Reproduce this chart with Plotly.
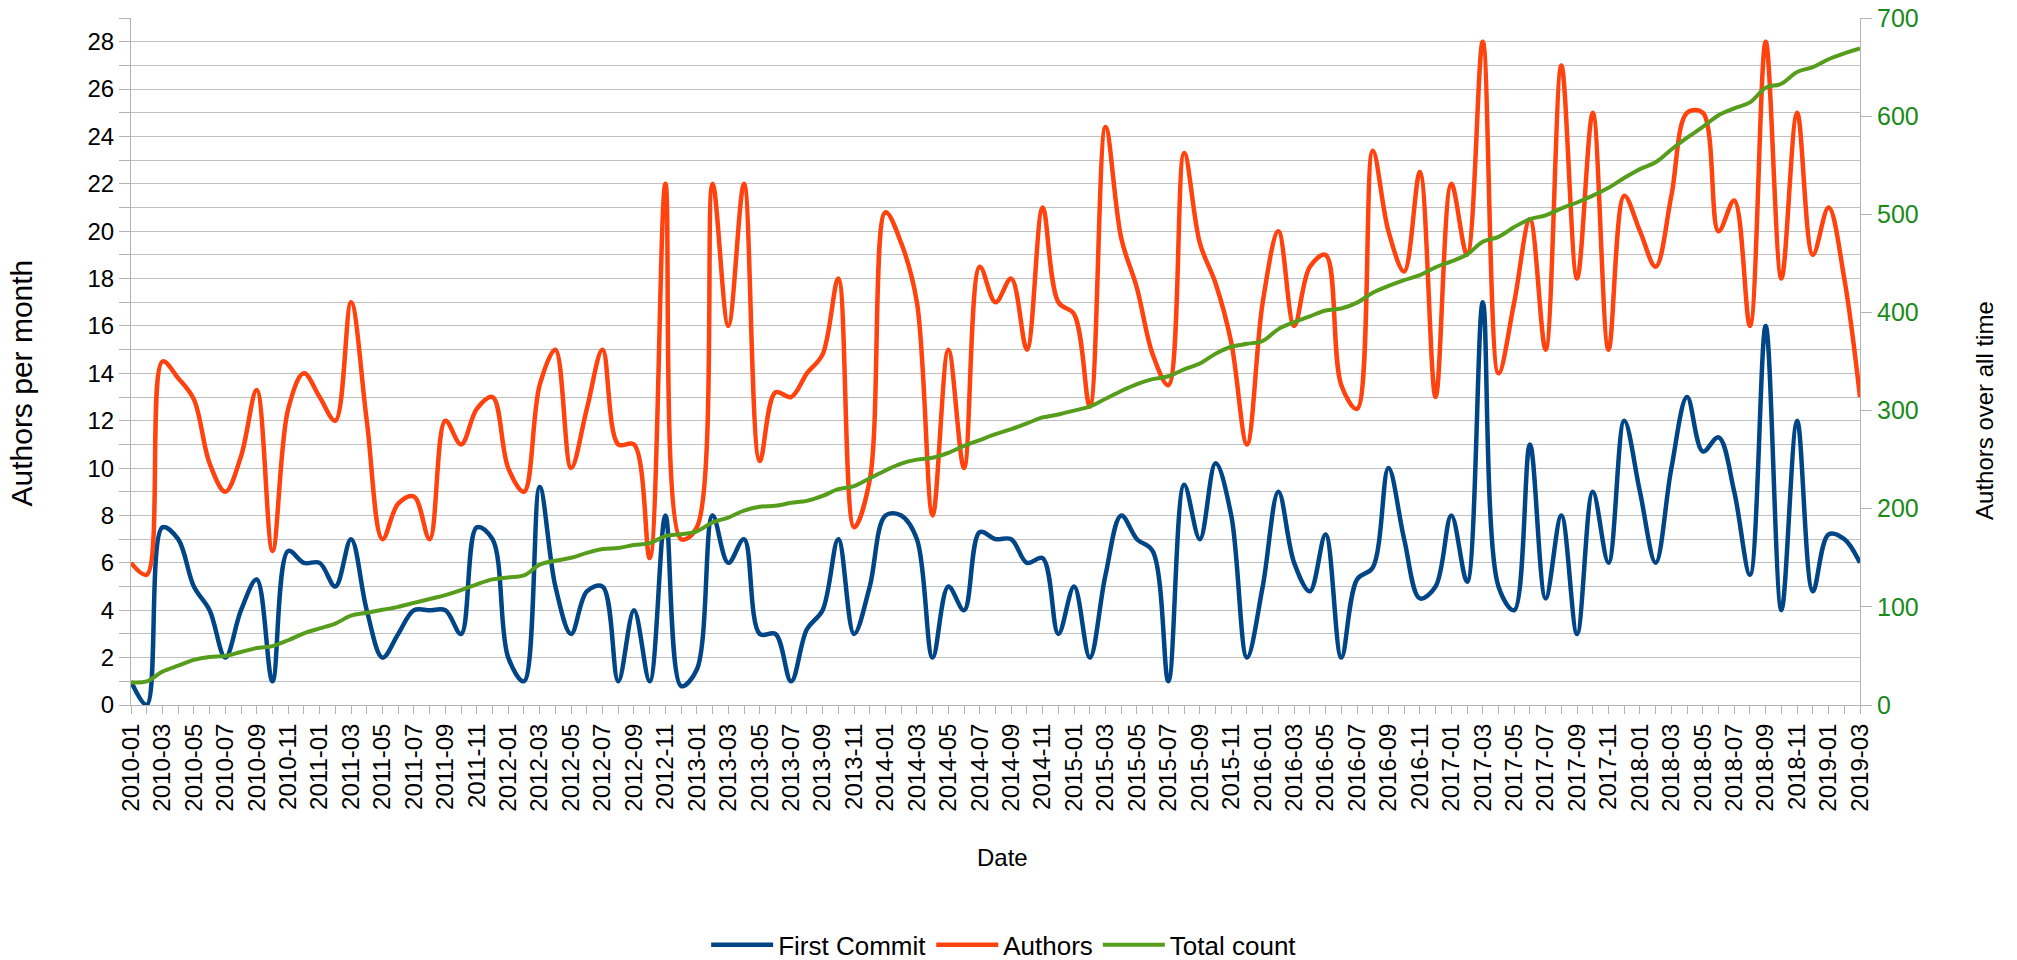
import plotly.graph_objects as go

# Categories: one per month, 2010-01 .. 2019-03
months = [f"{y}-{m:02d}" for y in range(2010, 2020) for m in range(1, 13)][:111]

first_commit = [
    1, 0, 7.5, 7, 5, 4, 2, 4, 5.3, 1,
    6.5, 6, 6, 5, 7, 4, 2, 3, 4, 4,
    4, 3, 7.5, 7, 2, 1, 9.2, 5, 3, 4.8,
    5, 1, 4, 1, 8, 0.8, 1.5, 8, 6, 7,
    3, 3, 1, 3.2, 4, 7, 3, 5, 8, 8,
    7, 2, 5, 4, 7.3, 7, 7, 6, 6.2, 3,
    5, 2, 5.5, 8, 7, 6.5, 1, 9.3, 7, 10.2,
    8, 2, 5, 9, 6, 4.8, 7.2, 2, 5.3, 5.8,
    10, 7, 4.5, 5, 8, 5.2, 17, 5, 4, 11,
    4.5, 8, 3, 9, 6, 12, 9, 6, 10, 13,
    10.7, 11.3, 9, 5.5, 16, 4, 12, 4.8, 7.2, 7,
    6,
]

authors = [
    6, 5.5, 14.5, 13.8, 12.9, 10.2, 9, 10.5, 13.3, 6.5,
    12.5, 14, 13, 12, 17, 12, 7, 8.5, 8.8, 7,
    12, 11, 12.5, 13, 10, 9, 13.5, 15, 10, 12.5,
    15, 11, 11, 6.2, 22, 7, 7.5, 22, 16, 22,
    10.3, 13.2, 13, 14, 14.8, 18, 7.5, 9.5, 20.8, 19.5,
    17, 8, 15, 10, 18.5, 17, 18, 15, 21, 17,
    16.5, 12.6, 24.4, 19.7, 17.6, 14.8, 13.5, 23.3, 19.5, 17.8,
    15.3, 11, 17, 20, 16, 18.5, 19, 13.5, 12.5, 23.4,
    20, 18.3, 22.5, 13, 22, 19, 28, 14, 17, 20.5,
    15, 27, 18, 25, 15, 21.5, 20, 18.5, 21.5, 25,
    25, 20, 21.3, 16, 28, 18, 25, 19, 21, 18,
    13,
]

total_count = [
    23, 24, 34, 40, 46, 49, 50, 54, 58, 60,
    66, 73, 78, 83, 91, 94, 97, 100, 104, 108,
    112, 117, 123, 128, 130, 132, 143, 147, 150, 155,
    159, 160, 163, 165, 172, 174, 177, 186, 191, 198,
    202, 203, 206, 208, 213, 220, 223, 231, 239, 246,
    250, 252, 257, 264, 270, 276, 281, 287, 293, 296,
    300, 304, 312, 320, 327, 332, 335, 342, 348, 358,
    365, 368, 371, 383, 390, 396, 402, 404, 410, 420,
    427, 433, 438, 446, 452, 459, 472, 477, 487, 495,
    499, 506, 512, 519, 527, 537, 546, 553, 566, 578,
    589, 601, 608, 614, 629, 633, 645, 650, 658, 664,
    669,
]

idx = list(range(len(months)))

BLUE = "#004586"
ORANGE = "#ff420e"
GREEN = "#579d1c"
GRID = "#c0c0c0"
AXIS = "#b3b3b3"
FONT = "Liberation Sans, Arial, sans-serif"

fig = go.Figure()
fig.add_trace(go.Scatter(x=idx, y=first_commit, name="First Commit", mode="lines",
                         line=dict(color=BLUE, width=4.5, shape="spline", smoothing=1)))
fig.add_trace(go.Scatter(x=idx, y=authors, name="Authors", mode="lines",
                         line=dict(color=ORANGE, width=4.5, shape="spline", smoothing=1)))
fig.add_trace(go.Scatter(x=idx, y=total_count, name="Total count", mode="lines", yaxis="y2",
                         line=dict(color=GREEN, width=4, shape="spline", smoothing=1)))

fig.update_layout(
    width=2017, height=960,
    margin=dict(l=131, r=157, t=18, b=255, autoexpand=False),
    paper_bgcolor="white", plot_bgcolor="white",
    font=dict(family=FONT, size=24, color="black"),
    showlegend=True,
    legend=dict(orientation="h", x=0.505, xanchor="center", y=-0.3493, yanchor="middle",
                font=dict(size=26), itemwidth=62, bgcolor="rgba(0,0,0,0)"),
    xaxis=dict(
        range=[0, 110], tickmode="array", tickvals=idx[::2], ticktext=months[::2],
        tickangle=-90, ticks="outside", ticklen=8, tickcolor=AXIS, tickwidth=1,
        showgrid=False, zeroline=False, showline=True, linecolor=AXIS, linewidth=1,
        minor=dict(tickmode="linear", tick0=0, dtick=1, ticks="outside", ticklen=8,
                   tickcolor=AXIS, showgrid=False),
        tickfont=dict(size=24), ticklabeloverflow="allow",
    ),
    yaxis=dict(
        range=[0, 29], tick0=0, dtick=2, ticks="outside", ticklen=11, tickcolor=AXIS,
        showgrid=True, gridcolor=GRID, gridwidth=1, zeroline=False,
        showline=True, linecolor=AXIS, linewidth=1,
        minor=dict(tickmode="linear", tick0=0, dtick=1, ticks="outside", ticklen=11,
                   tickcolor=AXIS, showgrid=True, gridcolor=GRID, gridwidth=1),
        tickfont=dict(size=24), ticklabeloverflow="allow",
    ),
    yaxis2=dict(
        overlaying="y", side="right", range=[0, 700], tick0=0, dtick=100,
        ticks="outside", ticklen=11, tickcolor=AXIS, showgrid=False, zeroline=False,
        showline=True, linecolor=AXIS, linewidth=1,
        tickfont=dict(size=25, color="#1a8a1a"), ticklabeloverflow="allow",
    ),
    annotations=[
        dict(text="Date", xref="paper", yref="paper", x=0.5043, y=-0.2227,
             xanchor="center", yanchor="middle", showarrow=False, font=dict(size=24)),
        dict(text="Authors per month", xref="paper", yref="paper", x=-0.0639, y=0.4687,
             xanchor="center", yanchor="middle", textangle=-90, showarrow=False,
             font=dict(size=30)),
        dict(text="Authors over all time", xref="paper", yref="paper", x=1.0723, y=0.428,
             xanchor="center", yanchor="middle", textangle=-90, showarrow=False,
             font=dict(size=24)),
    ],
)

# remove the browser's default 8px body margin so the figure fills the window exactly
fig.write_html("out.html", config={"displayModeBar": False},
               post_script="document.body.style.margin='0px';")
